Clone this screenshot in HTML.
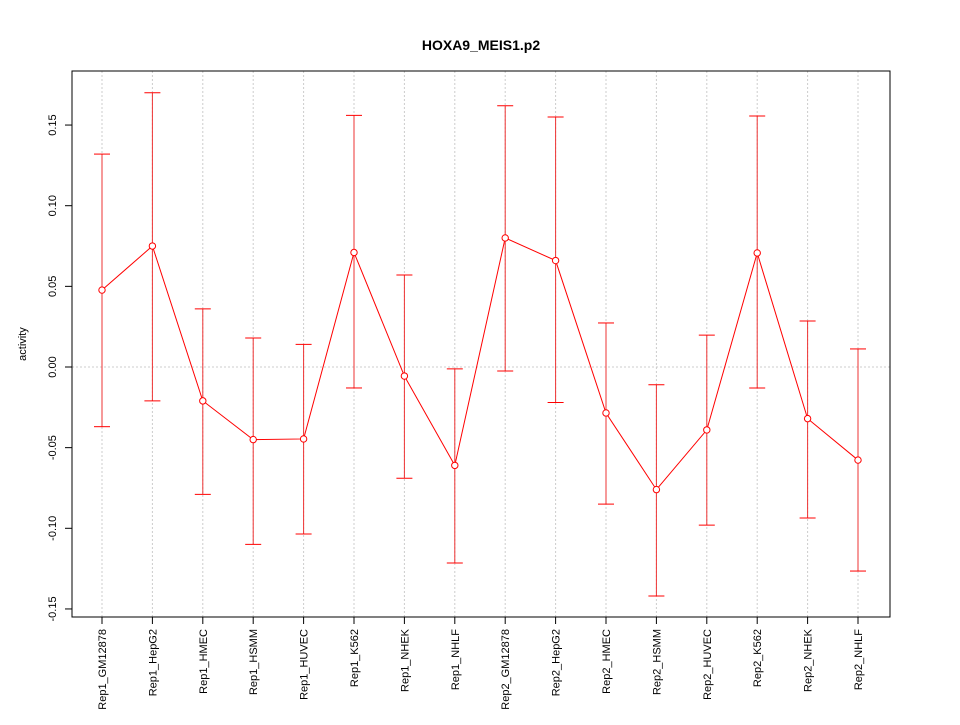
<!DOCTYPE html>
<html><head><meta charset="utf-8"><style>
body{margin:0;background:#fff}
svg text{font-family:"Liberation Sans",sans-serif;fill:#000}
</style></head><body>
<svg id="c" width="960" height="720" xmlns="http://www.w3.org/2000/svg">
<rect width="960" height="720" fill="#fff"/>
<text x="481" y="50" font-size="14" font-weight="bold" text-anchor="middle">HOXA9_MEIS1.p2</text>
<text transform="translate(26,344) rotate(-90)" font-size="11" text-anchor="middle">activity</text>
<g id="grid"></g><g id="axes"></g><g id="marks"></g>
<rect x="72" y="71" width="818" height="546" fill="none" stroke="#000"/>
</svg>
<script>
const categories=["Rep1_GM12878","Rep1_HepG2","Rep1_HMEC","Rep1_HSMM","Rep1_HUVEC","Rep1_K562","Rep1_NHEK","Rep1_NHLF","Rep2_GM12878","Rep2_HepG2","Rep2_HMEC","Rep2_HSMM","Rep2_HUVEC","Rep2_K562","Rep2_NHEK","Rep2_NHLF"];
const values=[0.0477,0.075,-0.021,-0.045,-0.0446,0.071,-0.0056,-0.061,0.080,0.066,-0.0285,-0.076,-0.039,0.0707,-0.032,-0.0577];
const upper=[0.132,0.170,0.036,0.018,0.014,0.156,0.057,-0.0012,0.162,0.155,0.0273,-0.011,0.0198,0.1556,0.0285,0.0112];
const lower=[-0.037,-0.021,-0.079,-0.110,-0.1035,-0.013,-0.069,-0.1215,-0.0025,-0.022,-0.085,-0.142,-0.098,-0.013,-0.0936,-0.1265];
const yTicks=[-0.15,-0.10,-0.05,0.00,0.05,0.10,0.15];
const yTickLabels=["-0.15","-0.10","-0.05","0.00","0.05","0.10","0.15"];
const NS="http://www.w3.org/2000/svg";
const y=v=>367-v*1613;
const x=i=>102+i*(858-102)/(categories.length-1);
function mk(t,a,p){const e=document.createElementNS(NS,t);for(const k in a)e.setAttribute(k,a[k]);p.appendChild(e);return e;}
const G=document.getElementById('grid'),A=document.getElementById('axes'),M=document.getElementById('marks');
categories.forEach((c,i)=>{
 const g=mk('line',{x1:x(i),x2:x(i),y1:71,y2:617,stroke:'#ccc','stroke-dasharray':'2,2'},G);
 
 
 const t=mk('line',{x1:x(i),x2:x(i),y1:617,y2:624,stroke:'#000'},A);
 
 
 const l=mk('text',{transform:`translate(${x(i)+4},629) rotate(-90)`,'font-size':11,'text-anchor':'end'},A);
 l.textContent=c;
 
 
});
const zg=mk('line',{x1:72,x2:890,y1:y(0),y2:y(0),stroke:'#ccc','stroke-dasharray':'2,2'},G);


yTicks.forEach((v,i)=>{
 const t=mk('line',{x1:65,x2:72,y1:y(v),y2:y(v),stroke:'#000'},A);
 
 
 const l=mk('text',{transform:`translate(56,${y(v)}) rotate(-90)`,'font-size':11,'text-anchor':'middle'},A);
 l.textContent=yTickLabels[i];
 
 
});
values.forEach((v,i)=>{
 const b=mk('line',{x1:x(i),x2:x(i),y1:y(upper[i]),y2:y(lower[i]),stroke:'#e33'},M);
 
 
 [upper[i],lower[i]].forEach(w=>{
  const c=mk('line',{x1:x(i)-8,x2:x(i)+8,y1:y(w),y2:y(w),stroke:'#f00'},M);
  
  
 });
});
const pl=mk('polyline',{points:values.map((v,i)=>x(i)+','+y(v)).join(' '),fill:'none',stroke:'#f00'},M);


values.forEach((v,i)=>{
 const p=mk('circle',{cx:x(i),cy:y(v),r:3.2,fill:'#fff',stroke:'#f00'},M);
 
 
});
</script>
</body></html>
